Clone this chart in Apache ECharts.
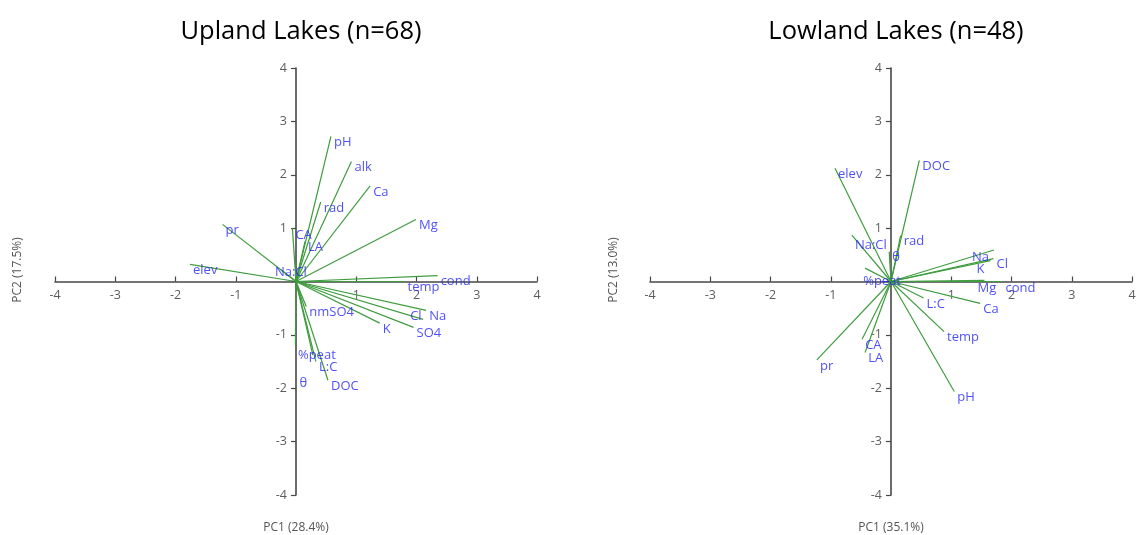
<!DOCTYPE html>
<html>
<head>
<meta charset="utf-8">
<title>PCA biplots</title>
<script src="https://cdn.jsdelivr.net/npm/echarts@6/dist/echarts.min.js"></script>
<style>
  html, body { margin: 0; padding: 0; background: #ffffff; }
  #chart { width: 1139px; height: 535px; }
</style>
</head>
<body>
<div id="chart"></div>
<script>
// Loadings of each variable on PC1 / PC2 — upland lakes
const uplandNames = ['pH', 'alk', 'Ca', 'rad', 'Mg', 'CA', 'LA', 'Na:Cl', 'pr', 'elev', 'cond', 'temp', 'Na', 'Cl', 'SO4', 'K', 'nmSO4', '%peat', 'L:C', 'DOC', 'θ'];
const uplandPC1 = [0.58, 0.92, 1.23, 0.41, 1.99, -0.06, 0.15, -0.25, -1.22, -1.76, 2.35, 1.80, 2.16, 2.11, 1.95, 1.39, 0.17, 0.28, 0.33, 0.53, -0.01];
const uplandPC2 = [2.72, 2.25, 1.79, 1.49, 1.16, 1.00, 0.75, 0.22, 1.07, 0.32, 0.11, 0.00, -0.54, -0.71, -0.86, -0.78, -0.47, -1.38, -1.50, -1.85, -1.20];

// Loadings of each variable on PC1 / PC2 — lowland lakes
const lowlandNames = ['DOC', 'elev', 'Na:Cl', 'rad', 'θ', '%peat', 'Na', 'K', 'Cl', 'Mg', 'cond', 'Ca', 'L:C', 'temp', 'pH', 'pr', 'CA', 'LA'];
const lowlandPC1 = [0.47, -0.93, -0.65, 0.16, -0.03, -0.43, 1.71, 1.65, 1.70, 1.55, 1.85, 1.48, 0.54, 0.88, 1.05, -1.23, -0.48, -0.43];
const lowlandPC2 = [2.27, 2.12, 0.87, 0.86, 0.56, 0.25, 0.59, 0.39, 0.43, 0.02, 0.00, -0.41, -0.31, -0.94, -2.06, -1.47, -1.08, -1.33];

// Axis ticks (the 0 tick is left unlabelled where the axes cross)
const tickValues = [-4, -3, -2, -1, 0, 1, 2, 3, 4];
const tickLabels = ['-4', '-3', '-2', '-1', '', '1', '2', '3', '4'];

// Label nudges (pixels) for labels that sit away from the arrow tip
const uplandLabelShift = {
  'Na:Cl': [-9, -3], 'Cl': [-16, -9], '%peat': [-18, -6], 'θ': [1, 32], 'CA': [0, 1]
};
const lowlandLabelShift = {
  'Na': [-25, 1], 'K': [-17, 3], 'Mg': [-10, 2], 'cond': [0, 1], '%peat': [-5, 7], 'Na:Cl': [0, 4]
};

const LINE_GREEN = '#3f9c3f';
const LABEL_BLUE = '#2424f8';
const AXIS_GREY = '#474747';
const FONT = '"Open Sans", "Noto Sans", sans-serif';

function axis(gridIndex, isX) {
  return {
    type: 'value', gridIndex: gridIndex,
    min: tickValues[0], max: tickValues[tickValues.length - 1], interval: 1,
    axisLine: { onZero: true, lineStyle: { color: AXIS_GREY, width: 1.6 } },
    axisTick: { show: true, inside: isX, length: 5, lineStyle: { color: AXIS_GREY, width: 1.2 } },
    axisLabel: { show: false },
    splitLine: { show: false }
  };
}

// Tick labels placed beside the crossing axes, through the axis scales
function tickLabelSeries(gridIndex, isX) {
  const data = [];
  tickValues.forEach((v, i) => {
    if (tickLabels[i] === '') return;
    data.push({ name: tickLabels[i], value: isX ? [v, 0] : [0, v] });
  });
  return {
    type: 'scatter', xAxisIndex: gridIndex, yAxisIndex: gridIndex,
    symbolSize: 0.1, silent: true, itemStyle: { color: 'transparent' },
    data: data,
    label: {
      show: true, position: isX ? 'bottom' : 'left', distance: isX ? 7 : 9,
      formatter: p => p.name, color: '#333', fontSize: 12.5, fontFamily: FONT
    },
    z: 2
  };
}

function vectorSeries(gridIndex, names, xs, ys) {
  return {
    type: 'lines', coordinateSystem: 'cartesian2d',
    xAxisIndex: gridIndex, yAxisIndex: gridIndex,
    polyline: false, silent: true, symbol: 'none',
    lineStyle: { color: LINE_GREEN, width: 1.2, opacity: 1 },
    data: names.map((n, i) => ({ name: n, coords: [[0, 0], [xs[i], ys[i]]] })),
    z: 3
  };
}

function labelSeries(gridIndex, names, xs, ys, shifts) {
  return {
    type: 'scatter', xAxisIndex: gridIndex, yAxisIndex: gridIndex,
    symbolSize: 0.1, silent: true,
    itemStyle: { color: 'transparent' },
    data: names.map((n, i) => {
      const s = shifts[n] || [0, 0];
      return {
        name: n, value: [xs[i], ys[i]],
        label: { offset: [s[0], 6 + s[1]] }
      };
    }),
    label: {
      show: true, position: 'right', distance: 3,
      formatter: p => p.name,
      color: LABEL_BLUE, fontSize: 13, fontFamily: FONT
    },
    z: 4
  };
}

const chart = echarts.init(document.getElementById('chart'), null, { renderer: 'canvas' });

chart.setOption({
  backgroundColor: '#ffffff',
  animation: false,
  title: [
    { text: 'Upland Lakes (n=68)', left: 296, top: 14, textAlign: 'center',
      textStyle: { fontSize: 25.5, fontWeight: 'normal', color: '#000', fontFamily: FONT } },
    { text: 'Lowland Lakes (n=48)', left: 891, top: 14, textAlign: 'center',
      textStyle: { fontSize: 25.5, fontWeight: 'normal', color: '#000', fontFamily: FONT } }
  ],
  grid: [
    { left: 55, right: 602, top: 68, bottom: 40 },
    { left: 650, right: 7, top: 68, bottom: 40 }
  ],
  xAxis: [axis(0, true), axis(1, true)],
  yAxis: [axis(0, false), axis(1, false)],
  graphic: [
    { type: 'text', x: 296, y: 528, style: { text: 'PC1 (28.4%)', fill: '#555', fontSize: 12, fontFamily: FONT, textAlign: 'center', textVerticalAlign: 'middle' } },
    { type: 'text', x: 891, y: 528, style: { text: 'PC1 (35.1%)', fill: '#555', fontSize: 12, fontFamily: FONT, textAlign: 'center', textVerticalAlign: 'middle' } },
    { type: 'text', x: 18, y: 270, rotation: Math.PI / 2, style: { text: 'PC2 (17.5%)', fill: '#555', fontSize: 12, fontFamily: FONT, textAlign: 'center', textVerticalAlign: 'middle' } },
    { type: 'text', x: 614, y: 270, rotation: Math.PI / 2, style: { text: 'PC2 (13.0%)', fill: '#555', fontSize: 12, fontFamily: FONT, textAlign: 'center', textVerticalAlign: 'middle' } }
  ],
  series: [
    tickLabelSeries(0, true), tickLabelSeries(0, false),
    tickLabelSeries(1, true), tickLabelSeries(1, false),
    vectorSeries(0, uplandNames, uplandPC1, uplandPC2),
    labelSeries(0, uplandNames, uplandPC1, uplandPC2, uplandLabelShift),
    vectorSeries(1, lowlandNames, lowlandPC1, lowlandPC2),
    labelSeries(1, lowlandNames, lowlandPC1, lowlandPC2, lowlandLabelShift)
  ]
});
</script>
</body>
</html>
